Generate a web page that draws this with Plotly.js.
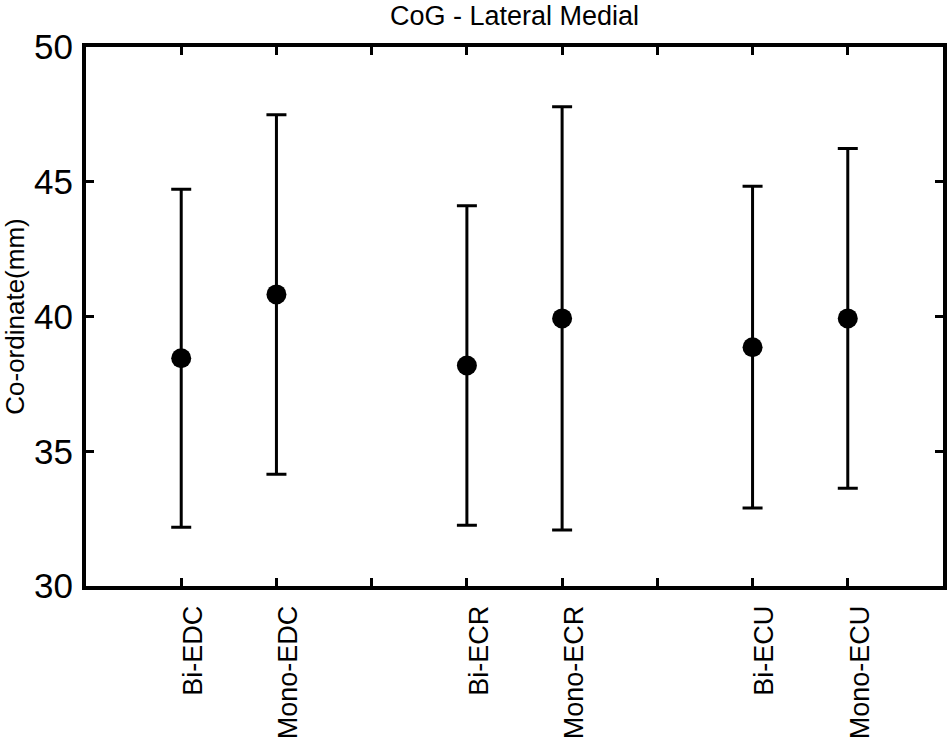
<!DOCTYPE html>
<html>
<head>
<meta charset="utf-8">
<script src="https://cdn.plot.ly/plotly-3.0.1.min.js"></script>
<style>
  html, body { margin: 0; padding: 0; background: #fff; }
  #chart { width: 950px; height: 741px; }
</style>
</head>
<body>
<div id="chart"></div>
<script>
// CoG lateral-medial coordinate, mean +/- SD (mm)
const categorias = ['Bi-EDC', 'Mono-EDC', 'Bi-ECR', 'Mono-ECR', 'Bi-ECU', 'Mono-ECU'];
const medias = [38.45, 40.82, 38.18, 39.93, 38.86, 39.93];
const desvios = [6.27, 6.67, 5.93, 7.85, 5.97, 6.30];

// two muscles per group, one empty slot between groups
const posicoes = categorias.map((c, i) => i + Math.floor(i / 2) + 1);
const tickVals = [];
const tickText = [];
for (let p = 1; p <= posicoes[posicoes.length - 1]; p++) {
    tickVals.push(p);
    const k = posicoes.indexOf(p);
    tickText.push(k >= 0 ? categorias[k] : '');
}

const FONTE = 'Liberation Sans, Arial, sans-serif';

const data = [
    {
        type: 'scatter',
        mode: 'markers',
        x: posicoes,
        y: medias,
        marker: { color: 'black', size: 20 },
        error_y: {
            type: 'data',
            array: desvios,
            visible: true,
            color: 'black',
            thickness: 3,
            width: 10
        },
        hoverinfo: 'x+y'
    }
];

const layout = {
    width: 950,
    height: 741,
    margin: { l: 86, r: 7, t: 47, b: 155 },
    paper_bgcolor: 'white',
    plot_bgcolor: 'white',
    showlegend: false,
    font: { family: FONTE, color: 'black' },
    title: {
        text: 'CoG - Lateral Medial',
        font: { size: 27, color: 'black' },
        x: 0.5,
        xref: 'paper',
        y: 0.979,
        yref: 'container',
        yanchor: 'middle'
    },
    xaxis: {
        range: [0, 9],
        tickmode: 'array',
        tickvals: tickVals,
        ticktext: tickText,
        tickangle: -90,
        tickfont: { size: 27 },
        ticks: 'inside',
        ticklen: 8,
        tickwidth: 3,
        tickcolor: 'black',
        showline: true,
        linewidth: 4,
        linecolor: 'black',
        mirror: 'ticks',
        showgrid: false,
        zeroline: false,
        ticklabelshift: 12,
        ticklabelstandoff: 5
    },
    yaxis: {
        range: [30, 50],
        dtick: 5,
        tick0: 30,
        tickfont: { size: 35 },
        ticks: 'inside',
        ticklen: 8,
        tickwidth: 3,
        tickcolor: 'black',
        showline: true,
        linewidth: 4,
        linecolor: 'black',
        mirror: 'ticks',
        showgrid: false,
        zeroline: false,
        ticklabelstandoff: 2,
        title: {
            text: 'Co-ordinate(mm)',
            font: { size: 26 },
            standoff: 8
        }
    }
};

Plotly.newPlot('chart', data, layout, { displayModeBar: false, staticPlot: true });
</script>
</body>
</html>
